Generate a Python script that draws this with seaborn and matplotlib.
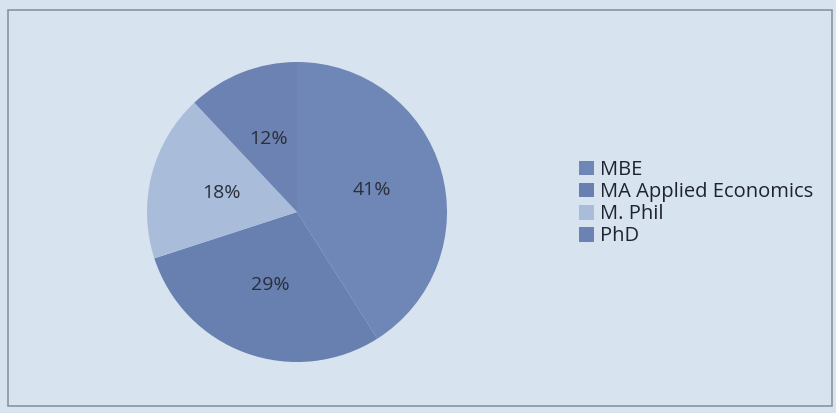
import seaborn as sns
import matplotlib.pyplot as plt
from matplotlib.patches import Rectangle

programmes = ['MBE', 'MA Applied Economics', 'M. Phil', 'PhD']
shares = [41, 29, 18, 12]
colors = ['#6f87b6', '#6880b0', '#a9bcd9', '#6b82b2']

sns.set_theme(style='white')
plt.rcParams['font.family'] = ['Open Sans', 'DejaVu Sans']

fig = plt.figure(figsize=(8.37, 4.13), dpi=100)
fig.patch.set_facecolor('#d8e3f0')
# thin frame around the chart area
fig.patches.append(Rectangle((8 / 837, 7 / 413), 824 / 837, 396 / 413,
                             transform=fig.transFigure, fill=False,
                             edgecolor='#8c949e', linewidth=1.2))

ax = fig.add_axes([147 / 837, 51 / 413, 300 / 837, 300 / 413])
wedges, texts = ax.pie(shares, colors=colors, startangle=90, counterclock=False,
                       labels=[f'{s}%' for s in shares], labeldistance=0.52,
                       textprops={'fontsize': 14, 'color': '#2a2e3a', 'ha': 'center'},
                       wedgeprops={'linewidth': 0})
ax.set_xlim(-1, 1)
ax.set_ylim(-1, 1)
ax.set_aspect('equal')

fig.legend(wedges, programmes, loc='upper left', bbox_to_anchor=(561 / 837, 1 - 142 / 413),
           frameon=False, fontsize=14.5, handlelength=0.75, handleheight=0.75,
           handletextpad=0.3, labelspacing=0.1, labelcolor='#1e2330')

fig.savefig('out.png', dpi=100, facecolor=fig.get_facecolor())
